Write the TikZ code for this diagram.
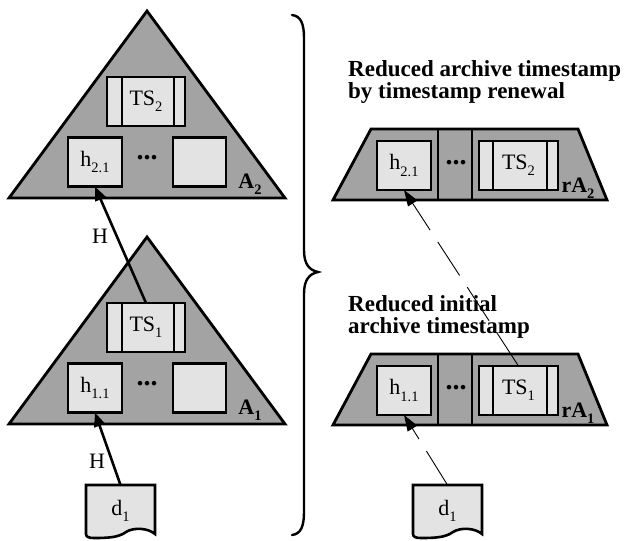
\documentclass[tikz,border=0pt]{standalone}
\usepackage{fontspec}
\setmainfont{Liberation Serif}
\usetikzlibrary{arrows.meta}
\definecolor{treegray}{gray}{0.64}
\definecolor{boxgray}{gray}{0.89}
\newcommand\labfont{\fontsize{22}{24}\selectfont}
\newcommand\dotfont{\fontsize{28}{28}\selectfont\bfseries}
\newcommand\ttlfont{\fontsize{23}{22.5}\selectfont\bfseries}
\newcommand\mysub[1]{\raisebox{-0.28em}{\fontsize{14.5}{14.5}\selectfont #1}}
\begin{document}
\begin{tikzpicture}[x=1pt,y=-1pt,
  fig/.style={draw, line width=2.8pt, fill=treegray, line join=miter},
  box/.style={draw, line width=2.6pt, fill=boxgray, minimum width=54pt, minimum height=49pt, inner sep=0pt, outer sep=0pt, font=\labfont},
  tsbox/.style={box, minimum width=78pt},
  doc/.style={minimum width=69pt, minimum height=52pt, inner sep=0pt, outer sep=0pt, font=\labfont},
  docline/.style={draw, line width=2.6pt, fill=boxgray},
  txt/.style={font=\labfont, inner sep=0pt},
  boldtxt/.style={font=\labfont\bfseries, inner sep=0pt},
  dots/.style={font=\dotfont, inner sep=0pt, anchor=base},
  ttl/.style={font=\ttlfont, inner sep=0pt, align=left, anchor=north west},
  solidarrow/.style={line width=2.6pt, -{Triangle[length=14pt,width=11pt]}},
  dasharrow/.style={line width=0.9pt, dash pattern=on 40pt off 14pt, -{Triangle[length=16pt,width=11pt]}},
  sep/.style={line width=2.6pt},
  bracestyle/.style={line width=2.4pt, line cap=round}
]
\useasboundingbox (0,0) rectangle (630,541);

% ---------- left: archive timestamp A2 ----------
\draw[fig] (147,11) -- (285,198) -- (9,198) -- cycle;
\node[tsbox] (ts2) at (146,101.5) {TS\mysub{2}};
\draw[sep] ([xshift=15pt]ts2.north west) -- ([xshift=15pt]ts2.south west);
\draw[sep] ([xshift=-11pt]ts2.north east) -- ([xshift=-11pt]ts2.south east);
\node[box] (h21) at (95,162) {h\mysub{2.1}};
\node[box, minimum width=53pt] (e2) at (199.5,162) {};
\node[dots] (dots2) at (147,159.5) {...};
\node[boldtxt] (a2) at (250,184) {A\mysub{2}};

% ---------- left: archive timestamp A1 ----------
\draw[fig] (147,237) -- (285,424) -- (9,424) -- cycle;
\node[tsbox] (ts1) at (146,327.5) {TS\mysub{1}};
\draw[sep] ([xshift=15pt]ts1.north west) -- ([xshift=15pt]ts1.south west);
\draw[sep] ([xshift=-11pt]ts1.north east) -- ([xshift=-11pt]ts1.south east);
\node[box] (h11) at (95,388) {h\mysub{1.1}};
\node[box, minimum width=53pt] (e1) at (199.5,388) {};
\node[dots] (dots1) at (147,385.5) {...};
\node[boldtxt] (a1) at (250,410) {A\mysub{1}};

% ---------- left document ----------
\draw[docline, shift={(86,485)}] (69,0) -- (69,49) .. controls (62,43) and (48,42) .. (40,47) .. controls (33,52) and (25,53) .. (8,53) .. controls (3,53) and (0,52) .. (0,49) -- (0,0) -- cycle;
\node[doc] (d1) at (120.5,511) {d\mysub{1}};

\node[txt] (H2) at (100,236) {H};
\node[txt] (H1) at (97,461) {H};

\draw[solidarrow] (ts1.north) -- (h21.south);
\draw[solidarrow] (d1.north) -- (h11.south);

% ---------- brace ----------
\draw[bracestyle] (292,15) .. controls (301,16) and (304,24) .. (304,38) -- (304,250) .. controls (304,264) and (309,270) .. (318,272) .. controls (309,274) and (304,280) .. (304,294) -- (304,512) .. controls (304,526) and (301,534) .. (292,535);

% ---------- right: reduced archive timestamp rA2 ----------
\node[ttl] (t2) at (348,60) {Reduced archive timestamp\\by timestamp renewal};
\draw[fig] (371,129) -- (578,129) -- (607,200) -- (333,200) -- cycle;
\draw[sep] (438,129) -- (438,200);
\draw[sep] (472,129) -- (472,200);
\node[box] (rh21) at (404,165.5) {h\mysub{2.1}};
\node[tsbox, minimum width=79pt] (rts2) at (518.5,165.5) {TS\mysub{2}};
\draw[sep] ([xshift=14pt]rts2.north west) -- ([xshift=14pt]rts2.south west);
\draw[sep] ([xshift=-11pt]rts2.north east) -- ([xshift=-11pt]rts2.south east);
\node[dots] (rdots2) at (456,164) {...};
\node[boldtxt] (ra2) at (578,188) {rA\mysub{2}};

% ---------- right: reduced initial archive timestamp rA1 ----------
\node[ttl] (t1) at (348,295) {Reduced initial\\archive timestamp};
\draw[fig] (371,354) -- (578,354) -- (607,425) -- (333,425) -- cycle;
\draw[sep] (438,354) -- (438,425);
\draw[sep] (472,354) -- (472,425);
\node[box] (rh11) at (404,390.5) {h\mysub{1.1}};
\node[tsbox, minimum width=79pt] (rts1) at (518.5,390.5) {TS\mysub{1}};
\draw[sep] ([xshift=14pt]rts1.north west) -- ([xshift=14pt]rts1.south west);
\draw[sep] ([xshift=-11pt]rts1.north east) -- ([xshift=-11pt]rts1.south east);
\node[dots] (rdots1) at (456,389) {...};
\node[boldtxt] (ra1) at (578,413) {rA\mysub{1}};

% ---------- right document ----------
\draw[docline, shift={(413,485)}] (69,0) -- (69,49) .. controls (62,43) and (48,42) .. (40,47) .. controls (33,52) and (25,53) .. (8,53) .. controls (3,53) and (0,52) .. (0,49) -- (0,0) -- cycle;
\node[doc] (rd1) at (447.5,511) {d\mysub{1}};

\draw[dasharrow] (rts1.north) -- (rh21.south);
\draw[dasharrow] (rd1.north) -- (rh11.south);
\end{tikzpicture}
\end{document}
